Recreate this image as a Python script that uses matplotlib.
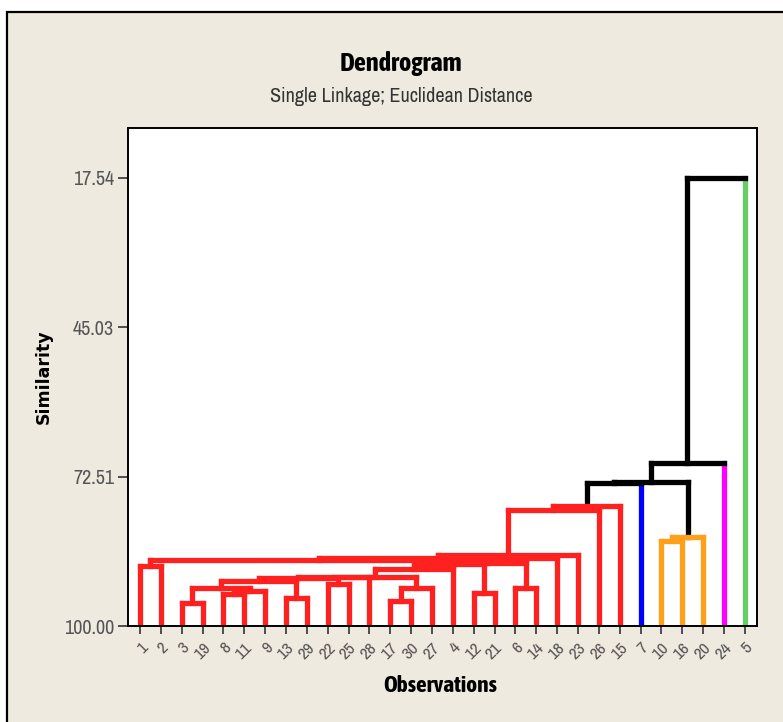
import matplotlib
matplotlib.use("Agg")
import matplotlib.pyplot as plt
from matplotlib import font_manager
from matplotlib.patches import Rectangle
import numpy as np

# ---------------- data ----------------
leaf_labels = ['1', '2', '3', '19', '8', '11', '9', '13', '29', '22', '25', '28', '17', '30',
               '27', '4', '12', '21', '6', '14', '18', '23', '26', '15', '7', '10', '16', '20',
               '24', '5']
leaf_colors = ['#ff2020'] * 24 + ['#0000ff'] + ['#ff9f1a'] * 3 + ['#ff00ff', '#66cc66']

# merges: (child a, child b, similarity); ids < 30 are leaves (display order), 30+k is merge k
merge_a = [0, 2, 4, 32, 31, 7, 34, 9, 36, 38, 12, 40, 39, 42, 16, 18, 43, 46, 30, 48, 49,
           50, 51, 52, 25, 54, 53, 56, 57]
merge_b = [1, 3, 5, 6, 33, 8, 35, 10, 37, 11, 13, 14, 41, 15, 17, 19, 44, 45, 47, 20, 21,
           22, 23, 24, 26, 27, 55, 28, 29]
merge_sim = [88.90, 95.82, 94.11, 93.65, 92.95, 94.79, 91.72, 92.32, 91.25, 91.07, 95.31,
             93.00, 90.92, 89.51, 93.98, 92.95, 88.59, 88.40, 87.94, 87.57, 86.93, 78.64,
             77.85, 73.76, 84.44, 83.61, 73.58, 70.05, 17.54]

y_ticks = [17.54, 45.03, 72.51, 100.00]

# ---------------- fonts ----------------
entries = font_manager.fontManager.ttflist
names = sorted({f.name for f in entries})
cond = [nm for nm in names if 'Narrow' in nm or 'Condensed' in nm]
narrow = cond[0] if cond else 'Roboto'


def _w(v):
    if isinstance(v, str):
        return 700 if 'bold' in v.lower() or 'black' in v.lower() or 'heavy' in v.lower() else 400
    return int(v)


bold_cands = [f.name for f in entries
              if ('Narrow' in f.name or 'Condensed' in f.name) and _w(f.weight) >= 700]
if not bold_cands:
    bold_cands = [f.name for f in entries
                  if _w(f.weight) >= 700 and f.stretch in ('condensed', 'semi-condensed',
                                                          'extra-condensed')]
bold_narrow = sorted(bold_cands)[0] if bold_cands else 'Roboto'
fam = [narrow, 'DejaVu Sans']
bfam = [bold_narrow, 'DejaVu Sans']

# ---------------- figure ----------------
fig = plt.figure(figsize=(7.83, 7.22), dpi=100)
fig.patch.set_facecolor('white')
W, H = 783, 722
bg = Rectangle((7 / W, -0.1), 1.2, 1.1 - 12 / H, transform=fig.transFigure,
               facecolor='#eeeae0', edgecolor='black', linewidth=1.6, zorder=-10)
fig.add_artist(bg)

ax = fig.add_axes([128 / W, 1 - 626 / H, (757 - 128) / W, (626 - 128) / H], zorder=5)
ax.set_facecolor('white')

n = len(leaf_labels)
xpos = list(range(n))
ypos = [100.0] * n
cols = list(leaf_colors)
is_leaf = [True] * n
for a, b, s in zip(merge_a, merge_b, merge_sim):
    xa, xb = xpos[a], xpos[b]
    ya, yb = ypos[a], ypos[b]
    c = cols[a] if cols[a] == cols[b] else 'black'
    lw = 3.8
    ca = cols[a] if is_leaf[a] else c
    cb = cols[b] if is_leaf[b] else c
    ax.plot([xa, xa], [ya, s], color=ca, lw=lw, solid_capstyle='projecting', zorder=2)
    ax.plot([xb, xb], [yb, s], color=cb, lw=lw, solid_capstyle='projecting', zorder=2)
    ax.plot([xa, xb], [s, s], color=c, lw=lw, solid_capstyle='projecting', zorder=3)
    xpos.append((xa + xb) / 2)
    ypos.append(s)
    cols.append(c)
    is_leaf.append(False)

ax.set_xlim(-0.575, 29.58)
ax.set_ylim(100, 8.34)
ax.set_yticks(y_ticks)
ax.set_yticklabels([f'{v:.2f}' for v in y_ticks], family=fam, fontsize=14.5, color='#555555')
ax.set_xticks(range(n))
ax.set_xticklabels(leaf_labels, rotation=45, ha='right', va='top', rotation_mode='anchor',
                   family=fam, fontsize=12.5, color='#555555')
ax.tick_params(axis='y', direction='out', length=7, width=1.2, pad=3, color='#333333')
ax.tick_params(axis='x', direction='out', length=6, width=1.2, pad=4, color='#333333')
for sp in ax.spines.values():
    sp.set_linewidth(1.4)
    sp.set_color('black')

ax.set_ylabel('Similarity', family=['DejaVu Sans'], fontweight='bold', fontsize=12.5)
ax.yaxis.set_label_coords(-0.12, 0.5)
ax.set_xlabel('Observations', family=bfam, fontweight='bold', fontsize=16.8)
ax.xaxis.set_label_coords(0.497, -0.098)

fig.text(401 / W, 1 - 63 / H, 'Dendrogram', ha='center', va='center', family=bfam,
         fontweight='bold', fontsize=19, color='black')
fig.text(401 / W, 1 - 96 / H, 'Single Linkage; Euclidean Distance', ha='center', va='center',
         family=fam, fontsize=14.5, color='#333333')

fig.savefig('out.png', dpi=100, facecolor=fig.get_facecolor())
